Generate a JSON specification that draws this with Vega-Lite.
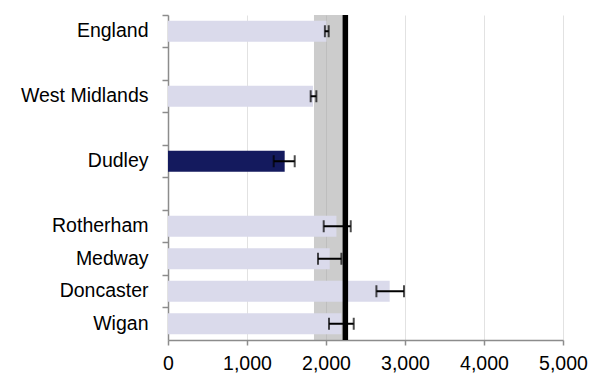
{
  "$schema": "https://vega.github.io/schema/vega-lite/v6.json",
  "autosize": {"type": "none"},
  "padding": {"left": 168, "top": 15, "right": 27, "bottom": 36},
  "width": 395,
  "height": 325,
  "background": "white",
  "config": {
    "view": {"stroke": null},
    "font": "Liberation Sans"
  },
  "datasets": {
    "areas": [
      {"area": "England", "value": 2005, "lo": 1986, "hi": 2034},
      {"area": "West Midlands", "value": 1835, "lo": 1806, "hi": 1878},
      {"area": "Dudley", "value": 1477, "lo": 1338, "hi": 1604},
      {"area": "Rotherham", "value": 2132, "lo": 1971, "hi": 2313},
      {"area": "Medway", "value": 2047, "lo": 1899, "hi": 2195},
      {"area": "Doncaster", "value": 2806, "lo": 2638, "hi": 2987},
      {"area": "Wigan", "value": 2195, "lo": 2038, "hi": 2351}
    ],
    "band": [{"lower": 1848, "upper": 2245}]
  },
  "layer": [
    {
      "data": {"name": "band"},
      "mark": {"type": "rect", "color": "#999999", "opacity": 0.5},
      "encoding": {
        "x": {
          "field": "lower", "type": "quantitative",
          "scale": {"domain": [0, 5000], "nice": false},
          "axis": {
            "values": [0, 1000, 2000, 3000, 4000, 5000],
            "format": ",.0f",
            "title": null,
            "grid": true,
            "gridColor": "#e2e2e2",
            "gridWidth": 1,
            "domainColor": "#8c8c8c",
            "domainWidth": 1.5,
            "tickColor": "#8c8c8c",
            "tickWidth": 1.5,
            "tickSize": 5,
            "labelFontSize": 19.5,
            "labelColor": "#000000",
            "labelPadding": 9,
            "labelFlush": false
          }
        },
        "x2": {"field": "upper"}
      }
    },
    {
      "data": {"name": "areas"},
      "layer": [
        {
          "mark": {"type": "bar", "height": {"band": 0.65}},
          "encoding": {
            "y": {
              "field": "area", "type": "nominal",
              "scale": {
                "domain": ["England", "gap1", "West Midlands", "gap2", "Dudley", "gap3", "Rotherham", "Medway", "Doncaster", "Wigan"],
                "paddingInner": 0, "paddingOuter": 0
              },
              "axis": {
                "title": null,
                "labelExpr": "(datum.value == 'gap1' || datum.value == 'gap2' || datum.value == 'gap3') ? '' : datum.value",
                "bandPosition": 0,
                "domainColor": "#8c8c8c",
                "domainWidth": 1.5,
                "tickColor": "#8c8c8c",
                "tickWidth": 1.5,
                "tickSize": 6,
                "labelFontSize": 19.5,
                "labelColor": "#000000",
                "labelPadding": 14
              }
            },
            "x": {"field": "value", "type": "quantitative"},
            "color": {
              "condition": {"test": "datum.area == 'Dudley'", "value": "#141a5e"},
              "value": "#dadaeb"
            }
          }
        },
        {
          "data": {"name": "band"},
          "mark": {"type": "rule", "color": "#000000", "strokeWidth": 5.5},
          "encoding": {"x": {"field": "upper", "type": "quantitative"}}
        },
        {
          "mark": {"type": "rule", "color": "#000000", "strokeWidth": 2},
          "encoding": {
            "y": {"field": "area", "type": "nominal"},
            "x": {"field": "lo", "type": "quantitative"},
            "x2": {"field": "hi"}
          }
        },
        {
          "mark": {"type": "tick", "color": "#000000", "thickness": 2, "size": 12},
          "encoding": {
            "y": {"field": "area", "type": "nominal"},
            "x": {"field": "lo", "type": "quantitative"}
          }
        },
        {
          "mark": {"type": "tick", "color": "#000000", "thickness": 2, "size": 12},
          "encoding": {
            "y": {"field": "area", "type": "nominal"},
            "x": {"field": "hi", "type": "quantitative"}
          }
        }
      ]
    }
  ]
}
